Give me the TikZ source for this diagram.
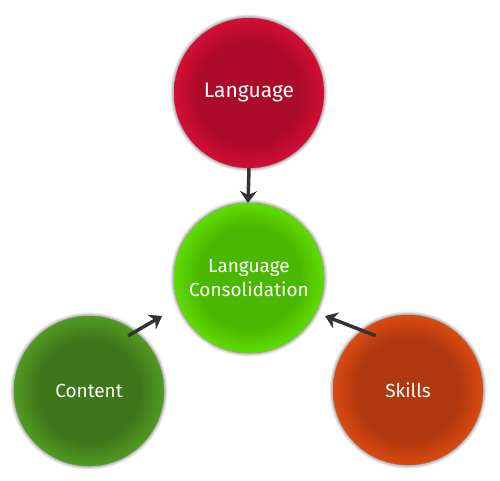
\documentclass[tikz,border=0pt]{standalone}
\usepackage{fontspec}
\setmainfont{Fira Sans}
\usetikzlibrary{shadows.blur,arrows.meta}
\definecolor{langin}{HTML}{AC0A29}
\definecolor{langout}{HTML}{D20E33}
\definecolor{conin}{HTML}{4AB700}
\definecolor{conout}{HTML}{5FDC00}
\definecolor{ctin}{HTML}{3E761B}
\definecolor{ctout}{HTML}{519A22}
\definecolor{skin}{HTML}{AF380E}
\definecolor{skout}{HTML}{D94A10}
\definecolor{arrowgray}{HTML}{333333}
\pgfdeclareradialshading{langshade}{\pgfpoint{0bp}{0bp}}{color(0bp)=(langin); color(17bp)=(langin); color(25bp)=(langout); color(50bp)=(langout)}
\pgfdeclareradialshading{conshade}{\pgfpoint{0bp}{0bp}}{color(0bp)=(conin); color(17bp)=(conin); color(25bp)=(conout); color(50bp)=(conout)}
\pgfdeclareradialshading{ctshade}{\pgfpoint{0bp}{0bp}}{color(0bp)=(ctin); color(17bp)=(ctin); color(25bp)=(ctout); color(50bp)=(ctout)}
\pgfdeclareradialshading{skshade}{\pgfpoint{0bp}{0bp}}{color(0bp)=(skin); color(17bp)=(skin); color(25bp)=(skout); color(50bp)=(skout)}
\tikzset{
  ball/.style={circle, minimum size=150pt, inner sep=0pt, text=white, align=center,
    blur shadow={shadow xshift=0pt, shadow yshift=0pt, shadow blur radius=4pt, shadow opacity=70, shadow blur steps=10}},
  link/.style={draw=arrowgray, line width=3.5pt, -{Stealth[length=12pt,width=17pt,inset=4pt]}}
}
\begin{document}
\begin{tikzpicture}[x=1pt,y=-1pt]
\useasboundingbox (0,0) rectangle (500,481);
\node[ball, shading=langshade, font=\fontsize{21}{24}\selectfont] (lang) at (249,93) {Language};
\node[ball, shading=conshade, font=\fontsize{19}{24}\selectfont] (cons) at (249,278) {Language\\Consolidation};
\node[ball, shading=ctshade, font=\fontsize{19}{22}\selectfont] (cont) at (89,391) {Content};
\node[ball, shading=skshade, font=\fontsize{19}{22}\selectfont] (skil) at (408,390) {Skills};
\coordinate (t1) at (248,203);
\coordinate (t2) at (162,316);
\coordinate (t3) at (325,316);
\draw[link] (lang.south) -- (t1);
\draw[link] (cont.north east) ++(-14,-2) coordinate (s2) (s2) -- (t2);
\draw[link] (skil.north west) ++(21,-1) coordinate (s3) (s3) -- (t3);
\end{tikzpicture}
\end{document}
